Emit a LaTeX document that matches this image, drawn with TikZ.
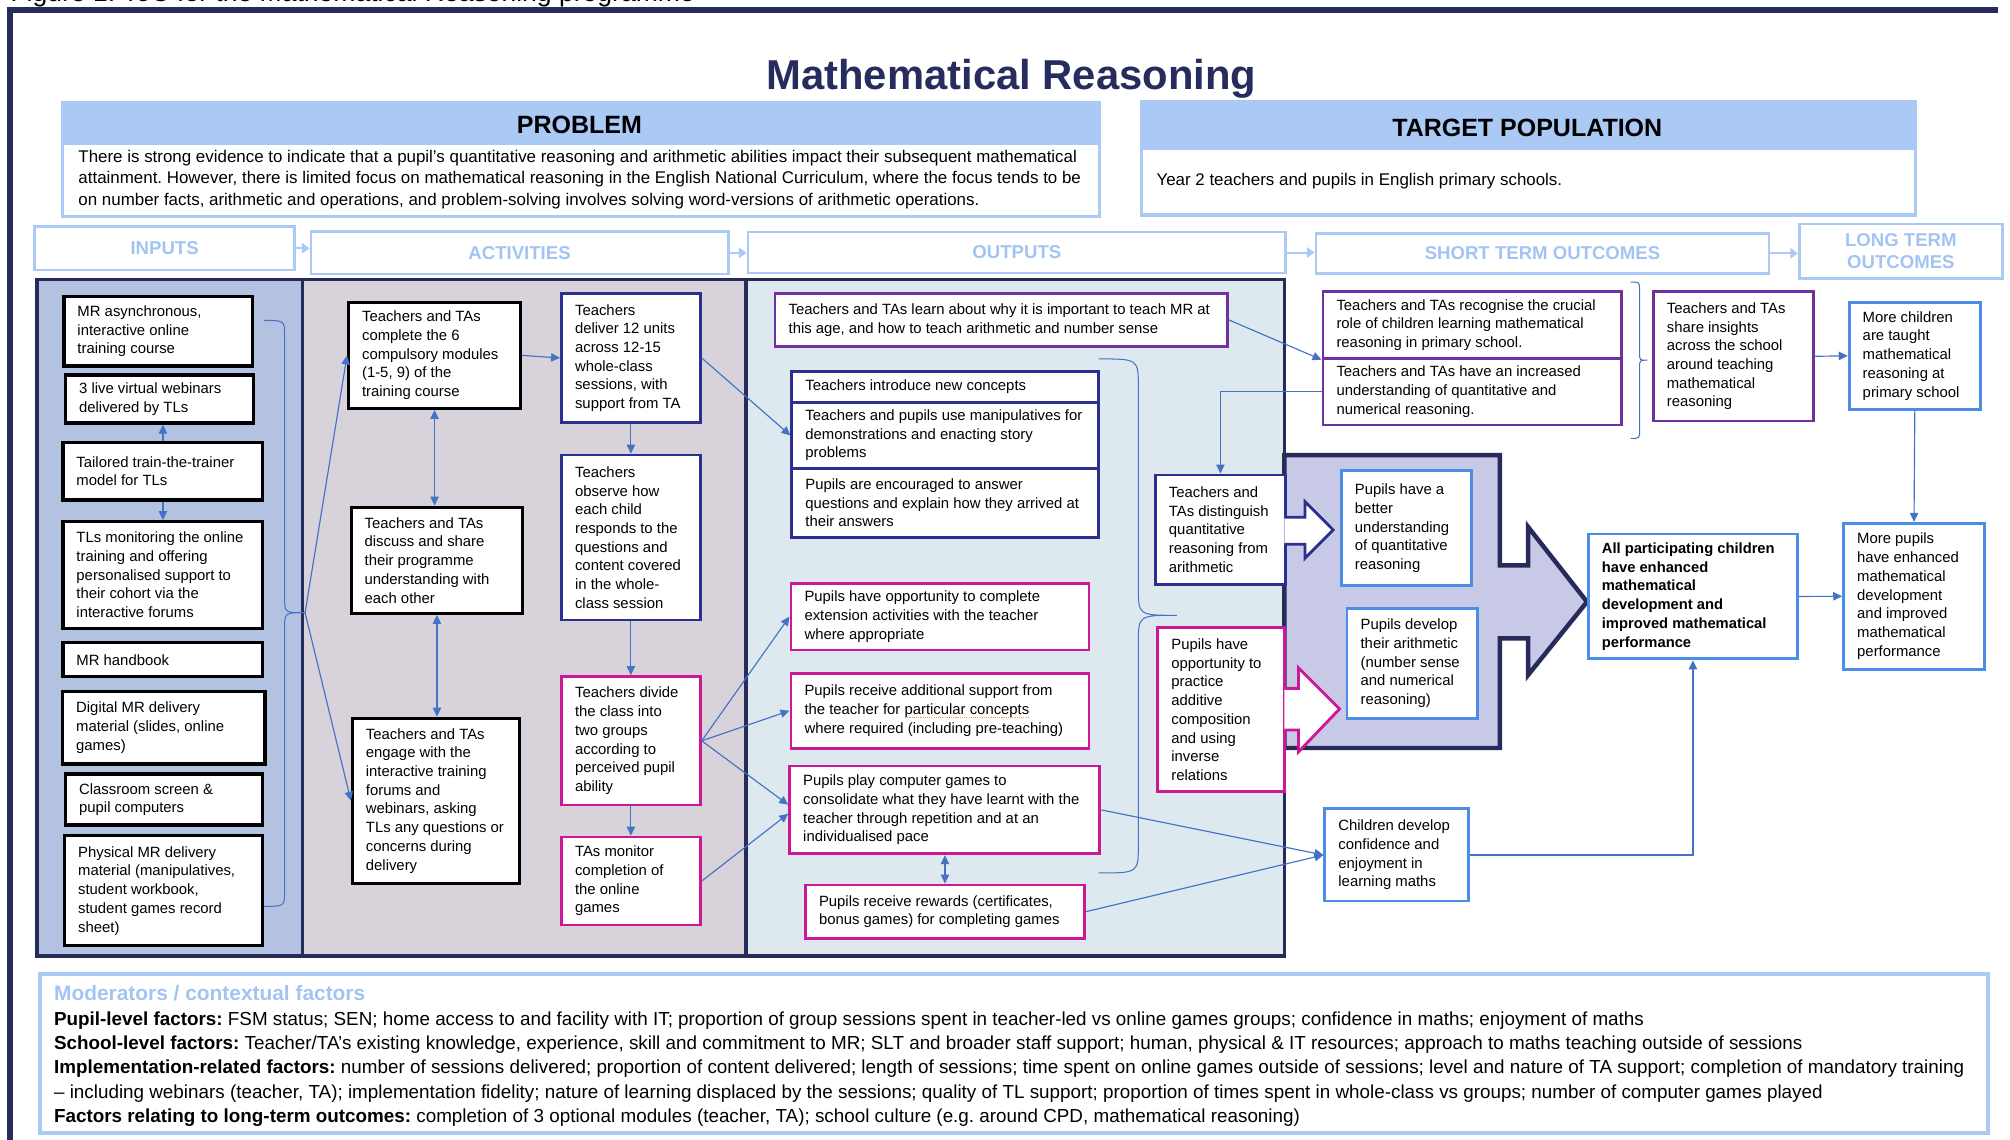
\documentclass[tikz,border=0pt]{standalone}
\usepackage{fontspec}
\setmainfont{Liberation Sans}
\usetikzlibrary{arrows.meta}
\frenchspacing
\definecolor{framenavy}{HTML}{262B59}
\definecolor{titlenavy}{HTML}{262C5E}
\definecolor{hblue}{HTML}{AAC9F5}
\definecolor{htxt}{HTML}{A3C4F3}
\definecolor{inpfill}{HTML}{B4C2E1}
\definecolor{actfill}{HTML}{D8D3DA}
\definecolor{outfill}{HTML}{DDE9EF}
\definecolor{lavfill}{HTML}{C8C9E6}
\definecolor{bnavy}{HTML}{2B3090}
\definecolor{bmag}{HTML}{CC1797}
\definecolor{bpur}{HTML}{7030A0}
\definecolor{bblue}{HTML}{4A8EE8}
\definecolor{conncol}{HTML}{4472C4}
\definecolor{ulcol}{HTML}{E8A33A}
\newcommand\dotund[1]{\setbox0\hbox{#1}\rlap{\raisebox{-2.4pt}{\textcolor{ulcol}{\hbox to \wd0{\xleaders\hbox to 1.7pt{\hss\vrule width 0.85pt height 0.85pt\hss}\hfill}}}}#1}
\newcommand\tbx[7]{%
  \node[#2, minimum width={#5-#3}, minimum height={#6-#4}] (#1) at ({(#3+#5)/2},{(#4+#6)/2}) {};
  \node[txt] (#1t) at ([xshift=11.5pt]#1.west) {#7};}
\newcommand\tbxb[7]{%
  \node[#2, minimum width={#5-#3}, minimum height={#6-#4}] (#1) at ({(#3+#5)/2},{(#4+#6)/2}) {};
  \node[txtb] (#1t) at ([xshift=11.5pt]#1.west) {#7};}
\newcommand\hbx[6]{\node[hdr, minimum width={#4-#2}, minimum height={#5-#3}] (#1) at ({(#2+#4)/2},{(#3+#5)/2}) {#6};}
\begin{document}
\begin{tikzpicture}[x=1pt,y=-1pt,
  box/.style={draw, fill=white, line width=2.2pt, inner sep=0pt},
  bk/.style={box, draw=black, line width=2.5pt},
  nv/.style={box, draw=bnavy},
  mg/.style={box, draw=bmag},
  pu/.style={box, draw=bpur},
  bl/.style={box, draw=bblue},
  txt/.style={font=\fontsize{11.6}{14.6}\selectfont, align=left, inner sep=0pt, anchor=west},
  txtb/.style={font=\bfseries\fontsize{11.5}{14.6}\selectfont, align=left, inner sep=0pt, anchor=west},
  conn/.style={draw=conncol, line width=0.9pt, -{Triangle[length=7pt,width=6.5pt]}},
  dconn/.style={draw=conncol, line width=0.9pt, {Triangle[length=7pt,width=6.5pt]}-{Triangle[length=7pt,width=6.5pt]}},
  brc/.style={draw=conncol, line width=0.8pt},
  hdr/.style={draw=hblue, line width=2.2pt, fill=white, inner sep=0pt, font=\bfseries\fontsize{14.5}{17}\selectfont, text=htxt, align=center},
  harr/.style={draw=hblue, line width=1.6pt, -{Triangle[length=6pt,width=8pt]}}
]
\useasboundingbox (0,0) rectangle (1568,889);
\clip (0,0) rectangle (1568,889);
\fill[white] (0,0) rectangle (1568,889);
% caption (cut off at top) and frame
\node[anchor=base west, inner sep=0pt, font=\fontsize{20.7}{24}\selectfont] (cap) at (8,1.3) {Figure 1: ToC for the Mathematical Reasoning programme};
\draw[framenavy, line width=4.5pt] (1559,7.8) -- (8,7.8) -- (8,900);
% title
\node[anchor=base, inner sep=0pt, font=\bfseries\fontsize{32.6}{38}\selectfont, text=titlenavy] (title) at (789,69.5) {Mathematical Reasoning};
% problem
\fill[hblue] (49,80) rectangle (858,113.5);
\draw[hblue, line width=2.5pt] (49,80) rectangle (858,169);
\node[anchor=base, inner sep=0pt, font=\bfseries\fontsize{19.5}{22}\selectfont] (probh) at (452,104) {PROBLEM};
\node[anchor=west, align=left, inner sep=0pt, font=\fontsize{13.2}{17}\selectfont] (probt) at (61,140) {There is strong evidence to indicate that a pupil’s quantitative reasoning and arithmetic abilities impact their subsequent mathematical\\attainment. However, there is limited focus on mathematical reasoning in the English National Curriculum, where the focus tends to be\\on number facts, arithmetic and operations, and problem-solving involves solving word-versions of arithmetic operations.};
% target population
\fill[hblue] (890.7,79.3) rectangle (1494.2,117);
\draw[hblue, line width=2.5pt] (890.7,79.3) rectangle (1494.2,167.7);
\node[anchor=base, inner sep=0pt, font=\bfseries\fontsize{19.5}{22}\selectfont] (targh) at (1191.4,106.6) {TARGET POPULATION};
\node[anchor=west, inner sep=0pt, font=\fontsize{13.2}{17}\selectfont] (targt) at (902,141) {Year 2 teachers and pupils in English primary schools.};
% column headers
\hbx{hin}{27.2}{176.8}{229.6}{210.6}{INPUTS}
\hbx{hact}{242.6}{180.7}{568}{213.7}{ACTIVITIES}
\hbx{hout}{583.5}{181}{1003}{213}{OUTPUTS}
\hbx{hst}{1026.6}{182}{1380}{213.2}{SHORT TERM OUTCOMES}
\hbx{hlt}{1403.7}{174.7}{1562}{217.1}{LONG TERM\\OUTCOMES}
\draw[harr] (hin.east) -- (hin.east -| hact.west);
\draw[harr] (hact.east) -- (hact.east -| hout.west);
\draw[harr] (hout.east) -- (hout.east -| hst.west);
\draw[harr] (hst.east) -- (hst.east -| hlt.west);
% panels
\fill[inpfill] (29,218) rectangle (236,746);
\fill[actfill] (236,218) rectangle (582,746);
\fill[outfill] (582,218) rectangle (1002,746);
\draw[framenavy, line width=3.5pt, fill=lavfill, line join=miter] (1002,355) -- (1170,355) -- (1170,441) -- (1192,441) -- (1192,411) -- (1238,469.5) -- (1192,526.6) -- (1192,498) -- (1170,498) -- (1170,583.5) -- (1002,583.5) -- cycle;
\draw[framenavy, line width=3pt] (29,218) rectangle (1002,746);
\draw[framenavy, line width=3pt] (236,218) -- (236,746);
\draw[framenavy, line width=3pt] (582,218) -- (582,746);
% braces
\draw[brc] (206,250) .. controls (222,250) .. (222,262) -- (222,466) .. controls (222,478) .. (238,478) .. controls (222,478) .. (222,490) -- (222,695) .. controls (222,707) .. (206,707);
\coordinate (ibt) at (238,478);
\draw[brc] (857,280) .. controls (888,280) .. (888,302) -- (888,458) .. controls (888,480) .. (918,480) .. controls (888,480) .. (888,502) -- (888,659) .. controls (888,681) .. (857,681);
\draw[brc] (1272,220) .. controls (1279,220) .. (1279,226) -- (1279,275) .. controls (1279,281) .. (1285,281) .. controls (1279,281) .. (1279,287) -- (1279,336) .. controls (1279,342) .. (1272,342);
% inputs
\tbx{in1}{bk}{50}{231.5}{197}{285.5}{MR asynchronous,\\interactive online\\training course}
\tbx{in2}{bk}{51.3}{292.5}{198}{330}{3 live virtual webinars\\delivered by TLs}
\tbx{in3}{bk}{49.2}{345}{205}{390}{Tailored train-the-trainer\\model for TLs}
\tbx{in4}{bk}{49.2}{407}{205}{490}{TLs monitoring the online\\training and offering\\personalised support to\\their cohort via the\\interactive forums}
\tbx{in5}{bk}{49.2}{501.3}{205}{528}{MR handbook}
\tbx{in6}{bk}{49}{539.6}{206.8}{596}{Digital MR delivery\\material (slides, online\\games)}
\tbx{in7}{bk}{51.3}{603.8}{205}{643.6}{Classroom screen \&\\pupil computers}
\tbx{in8}{bk}{50.5}{652}{205}{737.7}{Physical MR delivery\\material (manipulatives,\\student workbook,\\student games record\\sheet)}
% activities
\tbx{A1}{bk}{272}{236}{406}{318.5}{Teachers and TAs\\complete the 6\\compulsory modules\\(1-5, 9) of the\\training course}
\tbx{A2}{bk}{274}{395.7}{407.7}{478.4}{Teachers and TAs\\discuss and share\\their programme\\understanding with\\each other}
\tbx{A3}{bk}{275}{560.3}{405.2}{689}{Teachers and TAs\\engage with the\\interactive training\\forums and\\webinars, asking\\TLs any questions or\\concerns during\\delivery}
\tbx{B1}{nv}{438}{228.8}{546.3}{329.7}{Teachers\\deliver 12 units\\across 12-15\\whole-class\\sessions, with\\support from TA}
\tbx{B2}{nv}{438}{355}{546.3}{483.6}{Teachers\\observe how\\each child\\responds to the\\questions and\\content covered\\in the whole-\\class session}
\tbx{B3}{mg}{438}{527.8}{546.3}{628}{Teachers divide\\the class into\\two groups\\according to\\perceived pupil\\ability}
\tbx{B4}{mg}{438}{653}{546.3}{721.6}{TAs monitor\\completion of\\the online\\games}
% outputs
\tbx{O1}{pu}{604.6}{228.8}{957.6}{270.4}{Teachers and TAs learn about why it is important to teach MR at\\this age, and how to teach arithmetic and number sense}
\tbx{O2a}{nv}{617.7}{290}{856.7}{314}{Teachers introduce new concepts}
\tbx{O2b}{nv}{617.7}{314}{856.7}{365.3}{Teachers and pupils use manipulatives for\\demonstrations and enacting story\\problems}
\tbx{O2c}{nv}{617.7}{365.3}{856.7}{419.4}{Pupils are encouraged to answer\\questions and explain how they arrived at\\their answers}
\tbx{O3}{mg}{617}{455}{849.5}{507}{Pupils have opportunity to complete\\extension activities with the teacher\\where appropriate}
\tbx{O4}{mg}{617}{525.2}{849.5}{583.7}{Pupils receive additional support from\\the teacher for \dotund{particular concepts}\\where required (including pre-teaching)}
\tbx{O5}{mg}{616}{597.6}{858}{666}{Pupils play computer games to\\consolidate what they have learnt with the\\teacher through repetition and at an\\individualised pace}
\tbx{O6}{mg}{628.3}{690.4}{846}{732}{Pupils receive rewards (certificates,\\bonus games) for completing games}
\tbx{D}{nv}{901.3}{370.5}{1002.8}{455.8}{Teachers and\\TAs distinguish\\quantitative\\reasoning from\\arithmetic}
\tbx{Pr}{mg}{903.2}{489.6}{1002}{617.6}{Pupils have\\opportunity to\\practice\\additive\\composition\\and using\\inverse\\relations}
% small block arrows
\draw[bnavy, line width=2.2pt, fill=white, line join=miter] (1002,403.5) -- (1018,403.5) -- (1018,391.3) -- (1040,413.4) -- (1018,435.5) -- (1018,424.6) -- (1002,424.6);
\draw[bmag, line width=2.2pt, fill=white, line join=miter] (1002,537) -- (1013,537) -- (1013,521) -- (1045,553) -- (1013,586.5) -- (1013,569.5) -- (1002,569.5);
% short-term outcomes
\tbx{S1}{pu}{1032}{227.5}{1265}{279.5}{Teachers and TAs recognise the crucial\\role of children learning mathematical\\reasoning in primary school.}
\tbx{S2}{pu}{1032}{279.5}{1265}{331.5}{Teachers and TAs have an increased\\understanding of quantitative and\\numerical reasoning.}
\tbx{S3}{pu}{1289.7}{227.5}{1414.4}{328.4}{Teachers and TAs\\share insights\\across the school\\around teaching\\mathematical\\reasoning}
\tbx{P1}{bl}{1046.4}{367.2}{1148.2}{456.9}{Pupils have a\\better\\understanding\\of quantitative\\reasoning}
\tbx{P2}{bl}{1050.8}{474.5}{1152.5}{560.4}{Pupils develop\\their arithmetic\\(number sense\\and numerical\\reasoning)}
\tbx{C1}{bl}{1033.5}{631}{1145.6}{702.9}{Children develop\\confidence and\\enjoyment in\\learning maths}
\tbxb{E1}{bl}{1239}{416.6}{1402.3}{514}{All participating children\\have enhanced\\mathematical\\development and\\improved mathematical\\performance}
% long-term outcomes
\tbx{L1}{bl}{1442.5}{235.8}{1545}{319.3}{More children\\are taught\\mathematical\\reasoning at\\primary school}
\tbx{L2}{bl}{1438.2}{408.2}{1548}{522.1}{More pupils\\have enhanced\\mathematical\\development\\and improved\\mathematical\\performance}
% connectors
\draw[conn] (in3.north) -- (in3.north |- in2.south);
\draw[conn] (in3.south) -- (in3.south |- in4.north);
\draw[conn] (ibt) -- (A1.west);
\draw[conn] (ibt) -- (A3.west);
\draw[dconn] (A1.south) -- (A1.south |- A2.north);
\draw[dconn] (A2.south) -- (A2.south |- A3.north);
\draw[conn] (A1.east) -- (B1.west);
\draw[conn] (B1.south) -- (B2.north);
\draw[conn] (B2.south) -- (B3.north);
\draw[conn] (B3.south) -- (B4.north);
\draw[conn] (B1.east) -- (O2b.west);
\draw[conn] (B3.east) -- (O3.west);
\draw[conn] (B3.east) -- (O4.west);
\draw[conn] (B3.east) -- ([yshift=4pt]O5.west);
\draw[conn] (B4.east) -- ([yshift=-3pt]O5.west);
\draw[dconn] (O6.north |- O5.south) -- (O6.north);
\draw[conn] (O1.east) -- (S1.south west);
\draw[conn] (S2.west) -| (D.north);
\draw[conn] (S3.east) -- (L1.west);
\draw[conn] (L1.south) -- (L2.north);
\draw[conn] (E1.east) -- (L2.west);
\draw[conn] (C1.east) -| (E1.south);
\draw[conn] (O5.east) -- (C1.west);
\draw[conn] (O6.east) -- (C1.west);
% moderators
\draw[hblue, line width=3pt] (31,760) rectangle (1551,884);
\node[anchor=west, inner sep=0pt, font=\bfseries\fontsize{16.3}{19}\selectfont, text=htxt] (modh) at (42,775) {Moderators / contextual factors};
\node[anchor=west, align=left, inner sep=0pt, font=\fontsize{14.7}{18.8}\selectfont] (modt) at (42,834) {\textbf{Pupil-level factors:} FSM status; SEN; home access to and facility with IT; proportion of group sessions spent in teacher-led vs online games groups; confidence in maths; enjoyment of maths\\\textbf{School-level factors:} Teacher/TA’s existing knowledge, experience, skill and commitment to MR; SLT and broader staff support; human, physical \& IT resources; approach to maths teaching outside of sessions\\\textbf{Implementation-related factors:} number of sessions delivered; proportion of content delivered; length of sessions; time spent on online games outside of sessions; level and nature of TA support; completion of mandatory training\\– including webinars (teacher, TA); implementation fidelity; nature of learning displaced by the sessions; quality of TL support; proportion of times spent in whole-class vs groups; number of computer games played\\\textbf{Factors relating to long-term outcomes:} completion of 3 optional modules (teacher, TA); school culture (e.g. around CPD, mathematical reasoning)};
\end{tikzpicture}
\end{document}
